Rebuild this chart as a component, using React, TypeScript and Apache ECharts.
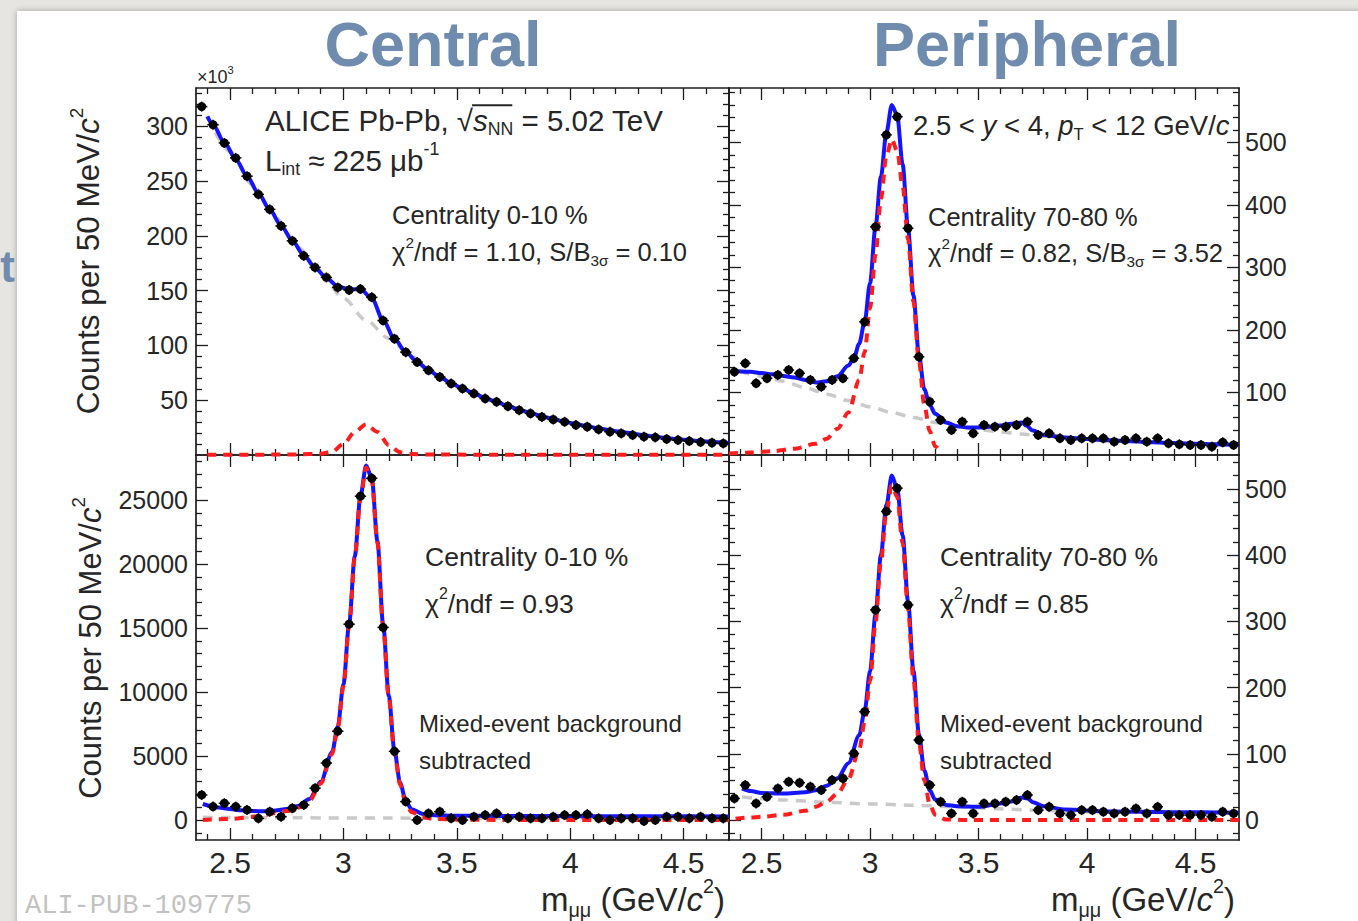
import React, { useEffect, useRef } from 'react';
import * as echarts from 'echarts';

// ---------------- data ----------------
const massBins = [2.375, 2.425, 2.475, 2.525, 2.575, 2.625, 2.675, 2.725, 2.775, 2.825, 2.875, 2.925, 2.975, 3.025, 3.075, 3.125, 3.175, 3.225, 3.275, 3.325, 3.375, 3.425, 3.475, 3.525, 3.575, 3.625, 3.675, 3.725, 3.775, 3.825, 3.875, 3.925, 3.975, 4.025, 4.075, 4.125, 4.175, 4.225, 4.275, 4.325, 4.375, 4.425, 4.475, 4.525, 4.575, 4.625, 4.675];

// Central 0-10 %, counts x10^3
const centralData = [318, 301.5, 284.8, 271.2, 254.5, 237.9, 224.2, 209.1, 195.5, 181.8, 171.2, 162.1, 153.0, 150.6, 151.5, 143.9, 122.7, 106.1, 93.9, 84.8, 77.3, 71.2, 65.2, 60.6, 56.1, 51.5, 48.5, 44.5, 40.9, 37.9, 34.8, 32.4, 30.3, 27.3, 25.8, 23.3, 21.2, 19.7, 18.2, 16.7, 16.1, 14.5, 13.6, 12.7, 11.8, 11.2, 10.6];
const peripheralData = [133, 146.7, 114.7, 122.7, 128, 136, 130.7, 120, 109.3, 120, 122.7, 154.7, 213, 365, 512, 541, 362.7, 157, 85.3, 56, 40, 53.3, 34.7, 48, 45.3, 45.3, 48, 53.3, 32, 34.7, 26.7, 24, 26.7, 26.7, 26.7, 21.3, 24, 26.7, 21.3, 26.7, 18.7, 17, 16, 16, 13.3, 20.3, 16];
const centralSubData = [1960, 1050, 1310, 1050, 790, 130, 650, 260, 920, 1180, 2490, 4450, 6940, 15300, 25300, 26700, 15050, 5370, 1440, 0, 520, 650, 130, 0, 260, 390, 520, 130, 260, 130, 130, 260, 390, 390, 450, 130, 0, 130, 130, -80, 0, 260, 260, 130, 260, 130, 130];
const peripheralSubData = [32.7, 52.9, 25.2, 35.2, 47.8, 57.9, 56.4, 50.4, 45.3, 60.4, 62.9, 100.7, 163.6, 317.2, 465.8, 501, 324.8, 120.8, 52.9, 27.7, 10.1, 27.7, 10.1, 25.2, 25.2, 27.7, 30.2, 37.8, 15.1, 20.1, 10.1, 7.6, 15.1, 15.1, 12.6, 10.1, 12.6, 17.6, 10.1, 20.1, 7.6, 7.6, 7.6, 7.6, 5, 12.6, 10.1];

// fit curves: [mass, value]
const centralFit = [[2.4, 309], [2.425, 301.5], [2.475, 285.5], [2.525, 270], [2.575, 254.5], [2.625, 239], [2.675, 224], [2.725, 209.5], [2.775, 195.5], [2.825, 182.5], [2.875, 171], [2.925, 161.5], [2.975, 154], [3.025, 151], [3.075, 151.5], [3.125, 143], [3.175, 123], [3.225, 106], [3.275, 94], [3.325, 85], [3.375, 77.5], [3.425, 71.3], [3.475, 65.5], [3.525, 60.7], [3.575, 56.2], [3.625, 52], [3.675, 48.3], [3.725, 44.8], [3.775, 41.3], [3.825, 38.3], [3.875, 35.4], [3.925, 32.8], [3.975, 30.4], [4.025, 28.2], [4.075, 26.2], [4.125, 24.3], [4.175, 22.6], [4.225, 21], [4.275, 19.5], [4.325, 18], [4.375, 16.6], [4.425, 15.4], [4.475, 14.3], [4.525, 13.4], [4.575, 12.6], [4.625, 11.9], [4.675, 11.2], [4.7, 10.9]];
const centralBkg = [[2.4, 309], [2.5, 277], [2.6, 246.5], [2.7, 217], [2.8, 189.5], [2.9, 165.5], [3.0, 143], [3.1, 123], [3.2, 106.5], [3.3, 90], [3.4, 74.5], [3.5, 63], [3.6, 54], [3.7, 46.5], [3.8, 39.8], [3.9, 34], [4.0, 29.3], [4.1, 25.2], [4.2, 21.8], [4.3, 18.8], [4.4, 16], [4.5, 13.9], [4.6, 12.2], [4.7, 10.9]];
const centralSig = [[2.4, 0.3], [2.6, 0.3], [2.8, 0.5], [2.9, 1.2], [2.95, 3], [3.0, 10], [3.05, 21], [3.1, 28], [3.15, 21], [3.2, 9], [3.25, 2.5], [3.3, 0.8], [3.4, 0.4], [3.6, 0.3], [4.7, 0.2]];

const peripheralFit = [[2.39, 134], [2.45, 133], [2.5, 131], [2.55, 129], [2.6, 126.5], [2.65, 124], [2.7, 120], [2.75, 116], [2.8, 118], [2.85, 126], [2.9, 143], [2.925, 155], [2.95, 178], [2.975, 213], [3.0, 275], [3.025, 365], [3.05, 445], [3.075, 515], [3.1, 560], [3.125, 543], [3.15, 465], [3.175, 362], [3.2, 255], [3.225, 160], [3.25, 105], [3.275, 80], [3.3, 66], [3.35, 52], [3.4, 46], [3.45, 44], [3.5, 44], [3.55, 45], [3.6, 47], [3.65, 50], [3.7, 52], [3.72, 47], [3.75, 39], [3.8, 32], [3.9, 28], [4.0, 25.5], [4.1, 23.5], [4.2, 22], [4.3, 20.5], [4.4, 19], [4.5, 18], [4.6, 17], [4.7, 16]];
const peripheralBkg = [[2.4, 134], [2.5, 126], [2.6, 118], [2.7, 108], [2.8, 97], [2.9, 87], [3.0, 77], [3.1, 68], [3.2, 60], [3.3, 52], [3.4, 45.5], [3.5, 40.5], [3.6, 37], [3.7, 33.5], [3.8, 30], [3.9, 27], [4.0, 25], [4.2, 22], [4.4, 19], [4.6, 16.5], [4.7, 15.5]];
const peripheralSig = [[2.35, 2.5], [2.45, 4], [2.55, 6], [2.65, 10], [2.75, 18], [2.8, 26], [2.85, 42], [2.9, 68], [2.95, 120], [2.975, 165], [3.0, 235], [3.025, 320], [3.05, 410], [3.075, 478], [3.1, 505], [3.125, 486], [3.15, 430], [3.175, 345], [3.2, 245], [3.225, 150], [3.25, 80], [3.275, 38], [3.3, 14], [3.325, 4]];

const centralSubFit = [[2.38, 1250], [2.45, 980], [2.5, 860], [2.55, 760], [2.6, 700], [2.65, 690], [2.7, 740], [2.75, 860], [2.8, 1100], [2.85, 1650], [2.9, 3000], [2.95, 5300], [2.975, 7300], [3.0, 10600], [3.025, 15300], [3.05, 20600], [3.075, 25300], [3.1, 27700], [3.125, 26700], [3.15, 21800], [3.175, 15300], [3.2, 9700], [3.225, 5400], [3.25, 2900], [3.275, 1500], [3.3, 850], [3.35, 480], [3.4, 370], [3.5, 330], [3.7, 320], [4.0, 300], [4.4, 290], [4.7, 280]];
const centralSubBkg = [[2.38, 210], [2.8, 170], [3.2, 150], [3.6, 140], [4.0, 140], [4.7, 130]];
const centralSubSig = [[2.38, 10], [2.5, 80], [2.6, 250], [2.65, 400], [2.7, 550], [2.75, 700], [2.8, 950], [2.85, 1500], [2.9, 2850], [2.95, 5150], [2.975, 7150], [3.0, 10450], [3.025, 15150], [3.05, 20450], [3.075, 25150], [3.1, 27550], [3.125, 26550], [3.15, 21650], [3.175, 15150], [3.2, 9550], [3.225, 5250], [3.25, 2750], [3.275, 1300], [3.3, 620], [3.35, 220], [3.4, 90], [3.5, 30], [3.7, 10], [4.7, 0]];

const peripheralSubFit = [[2.41, 48], [2.45, 44], [2.5, 41], [2.6, 40], [2.7, 42], [2.75, 45], [2.8, 52], [2.85, 63], [2.9, 86], [2.95, 128], [2.975, 165], [3.0, 225], [3.025, 310], [3.05, 400], [3.075, 475], [3.1, 520], [3.125, 500], [3.15, 430], [3.175, 330], [3.2, 225], [3.225, 130], [3.25, 75], [3.275, 45], [3.3, 31], [3.35, 23], [3.4, 21], [3.5, 20], [3.6, 25], [3.65, 28], [3.7, 34], [3.725, 33], [3.75, 27], [3.8, 21], [3.9, 16], [4.1, 13], [4.4, 12], [4.7, 11]];
const peripheralSubBkg = [[2.41, 35], [2.6, 30.5], [2.8, 27], [3.0, 24.5], [3.2, 22.5], [3.4, 20], [3.6, 17], [3.8, 14.5], [4.0, 12.8], [4.4, 11.3], [4.7, 10.3]];
const peripheralSubSig = [[2.38, 2], [2.45, 4], [2.5, 5], [2.6, 8], [2.7, 14], [2.75, 20], [2.8, 28], [2.85, 40], [2.9, 62], [2.95, 106], [2.975, 148], [3.0, 210], [3.025, 298], [3.05, 390], [3.075, 465], [3.1, 505], [3.125, 488], [3.15, 418], [3.175, 318], [3.2, 212], [3.225, 118], [3.25, 60], [3.275, 24], [3.3, 8], [3.35, 1], [3.45, 0], [4.7, 0]];

// axes
const X_MIN = 2.35;
const X_MAX = 4.7;
const xMajorTicks = [2.5, 3, 3.5, 4, 4.5];
const xMinorTicks = [2.4, 2.6, 2.7, 2.8, 2.9, 3.1, 3.2, 3.3, 3.4, 3.6, 3.7, 3.8, 3.9, 4.1, 4.2, 4.3, 4.4, 4.6];
const yTicksTL = [50, 100, 150, 200, 250, 300];
const yTicksTR = [100, 200, 300, 400, 500];
const yTicksBL = [0, 5000, 10000, 15000, 20000, 25000];
const yTicksBR = [0, 100, 200, 300, 400, 500];

// ---------------- helpers ----------------
const FONT = 'Liberation Sans';
const TXT = '#262626';
const AX = '#1c1c1c';
const HEAD = '#6f8cae';

let mctx: CanvasRenderingContext2D | null = null;
function textWidth(t: string, size: number, italic = false, weight = 'normal', family = FONT) {
  if (!mctx) mctx = document.createElement('canvas').getContext('2d');
  mctx!.font = `${italic ? 'italic' : 'normal'} ${weight} ${size}px "${family}"`;
  return mctx!.measureText(t).width;
}

type Seg = { t: string; k?: number; dy?: number; it?: boolean };
function richText(x0: number, y0: number, segs: Seg[], size: number, color = TXT, align: 'left' | 'center' | 'right' = 'left', weight = 'normal') {
  const widths = segs.map(s => textWidth(s.t, size * (s.k ?? 1), !!s.it, weight));
  const total = widths.reduce((a, b) => a + b, 0);
  let x = align === 'left' ? x0 : align === 'center' ? x0 - total / 2 : x0 - total;
  const xs: number[] = [];
  const els = segs.map((s, i) => {
    xs.push(x);
    const el = {
      type: 'text', x, y: y0 + (s.dy ?? 0) * size, z: 100, silent: true,
      style: {
        text: s.t, fontSize: size * (s.k ?? 1), fontFamily: FONT, fontWeight: weight,
        fontStyle: s.it ? 'italic' : 'normal', fill: color,
        align: 'left', verticalAlign: 'middle', textAlign: 'left', textVerticalAlign: 'middle',
      },
    };
    x += widths[i];
    return el;
  });
  xs.push(x);
  return { els, xs, total };
}
const SUB = (t: string, k = 0.6): Seg => ({ t, k, dy: 0.32 });
const SUP = (t: string, k = 0.6): Seg => ({ t, k, dy: -0.38 });

function minorTicks(lo: number, hi: number, step: number, major: number) {
  const out: number[] = [];
  for (let k = Math.ceil(lo / step); k * step < hi; k++) {
    const v = k * step;
    if (Math.abs(v / major - Math.round(v / major)) > 1e-6) out.push(v);
  }
  return out;
}

function xAxes(grid: number, showLabels: boolean) {
  const common = { type: 'value', gridIndex: grid, min: X_MIN, max: X_MAX, splitLine: { show: false } };
  const mk = (pos: string, major: boolean) => ({
    ...common,
    position: pos,
    axisLine: { show: major, onZero: false, lineStyle: { color: AX, width: 1.7 } },
    axisTick: { show: true, inside: true, length: major ? 12 : 6, customValues: major ? xMajorTicks : xMinorTicks, lineStyle: { color: AX, width: 1.3 } },
    axisLabel: {
      show: major && pos === 'bottom' && showLabels, customValues: xMajorTicks, fontSize: 30, fontFamily: FONT, color: TXT, margin: 7,
      formatter: (v: number) => String(v),
    },
  });
  return [mk('bottom', true), mk('bottom', false), mk('top', true), mk('top', false)];
}

function yAxes(grid: number, min: number, max: number, major: number[], step: number, majorStep: number, labelSide: string) {
  const common = { type: 'value', gridIndex: grid, min, max, splitLine: { show: false } };
  const minor = minorTicks(min, max, step, majorStep);
  const mk = (pos: string, isMajor: boolean) => ({
    ...common,
    position: pos,
    axisLine: { show: isMajor, onZero: false, lineStyle: { color: AX, width: 1.7 } },
    axisTick: { show: true, inside: true, length: isMajor ? 12 : 6, customValues: isMajor ? major : minor, lineStyle: { color: AX, width: 1.3 } },
    axisLabel: {
      show: isMajor && pos === labelSide, customValues: major, fontSize: 25, fontFamily: FONT, color: TXT,
      margin: pos === 'left' ? 8 : 6, formatter: (v: number) => String(v),
    },
  });
  return [mk('left', true), mk('left', false), mk('right', true), mk('right', false)];
}

const renderPoint = (_params: any, api: any) => {
  const m = api.value(0);
  const v = api.value(1);
  const p = api.coord([m, v]);
  const l = api.coord([m - 0.025, v]);
  const r = api.coord([m + 0.025, v]);
  const s = { stroke: '#000', lineWidth: 1.5 };
  return {
    type: 'group',
    children: [
      { type: 'line', shape: { x1: l[0], y1: p[1], x2: r[0], y2: p[1] }, style: s },
      { type: 'line', shape: { x1: p[0], y1: p[1] - 5, x2: p[0], y2: p[1] + 5 }, style: s },
      { type: 'circle', shape: { cx: p[0], cy: p[1], r: 4.5 }, style: { fill: '#000' } },
    ],
  };
};

function panelSeries(g: number, values: number[], fit: number[][], bkg: number[][], sig: number[][], sigClip = true) {
  const base = { xAxisIndex: g * 4, yAxisIndex: g * 4, silent: true, emphasis: { disabled: true } };
  return [
    { ...base, type: 'line', data: bkg, showSymbol: false, symbol: 'none', smooth: 0.3, smoothMonotone: 'x', lineStyle: { color: '#c9c9c9', width: 3.5, type: [10, 8] }, z: 2 },
    { ...base, type: 'line', data: fit, showSymbol: false, symbol: 'none', smooth: 0.3, smoothMonotone: 'x', lineStyle: { color: '#1414ff', width: 4 }, z: 3 },
    { ...base, type: 'line', data: sig, showSymbol: false, symbol: 'none', smooth: 0.3, smoothMonotone: 'x', clip: sigClip, lineStyle: { color: '#ff1c1c', width: 4, type: [9, 7] }, z: 4 },
    { ...base, type: 'custom', data: massBins.map((m, i) => [m, values[i]]), renderItem: renderPoint, z: 6 },
  ];
}

function buildOption() {
  const grids = [
    { left: 196, top: 88, width: 533, height: 367 },
    { left: 729, top: 88, width: 510, height: 367 },
    { left: 196, top: 455, width: 533, height: 385 },
    { left: 729, top: 455, width: 510, height: 385 },
  ].map(g => ({ ...g, containLabel: false, outerBoundsMode: 'none', show: false }));

  const xAxis = [...xAxes(0, false), ...xAxes(1, false), ...xAxes(2, true), ...xAxes(3, true)];
  const yAxis = [
    ...yAxes(0, 0, 335, yTicksTL, 10, 50, 'left'),
    ...yAxes(1, 0, 587, yTicksTR, 20, 100, 'right'),
    ...yAxes(2, -1560, 28520, yTicksBL, 1000, 5000, 'left'),
    ...yAxes(3, -30, 551, yTicksBR, 20, 100, 'right'),
  ];

  const series = [
    ...panelSeries(0, centralData, centralFit, centralBkg, centralSig, false),
    ...panelSeries(1, peripheralData, peripheralFit, peripheralBkg, peripheralSig, false),
    ...panelSeries(2, centralSubData, centralSubFit, centralSubBkg, centralSubSig),
    ...panelSeries(3, peripheralSubData, peripheralSubFit, peripheralSubBkg, peripheralSubSig),
  ];

  const g: any[] = [];
  const add = (r: { els: any[] }) => g.push(...r.els);

  // headers
  add(richText(433, 44, [{ t: 'Central' }], 63, HEAD, 'center', 'bold'));
  add(richText(1027, 44, [{ t: 'Peripheral' }], 63, HEAD, 'center', 'bold'));
  add(richText(15, 266, [{ t: 't' }], 44, HEAD, 'right', 'bold'));

  // x10^3
  add(richText(197, 77, [{ t: '×10' }, SUP('3', 0.62)], 18, TXT));

  // top-left annotations
  const alice = richText(265, 120, [{ t: 'ALICE Pb-Pb, ' }, { t: '√' }, { t: 's', it: true }, SUB('NN'), { t: ' = 5.02 TeV' }], 29.5, TXT);
  add(alice);
  g.push({ type: 'line', z: 100, silent: true, shape: { x1: alice.xs[2] - 1, y1: 120 - 0.5 * 29.5, x2: alice.xs[4] - 1, y2: 120 - 0.5 * 29.5 }, style: { stroke: TXT, lineWidth: 1.8 } });
  add(richText(265, 160, [{ t: 'L' }, SUB('int'), { t: ' ≈ 225 μb' }, SUP('-1')], 29.5, TXT));
  add(richText(392, 215, [{ t: 'Centrality 0-10 %' }], 25.5, TXT));
  add(richText(392, 252, [{ t: 'χ' }, SUP('2'), { t: '/ndf = 1.10, S/B' }, SUB('3σ'), { t: ' = 0.10' }], 25.5, TXT));

  // top-right annotations
  add(richText(913, 125, [{ t: '2.5 < ' }, { t: 'y', it: true }, { t: ' < 4, ' }, { t: 'p', it: true }, SUB('T'), { t: ' < 12 GeV/' }, { t: 'c', it: true }], 27.5, TXT));
  add(richText(928, 217, [{ t: 'Centrality 70-80 %' }], 25.5, TXT));
  add(richText(928, 253, [{ t: 'χ' }, SUP('2'), { t: '/ndf = 0.82, S/B' }, SUB('3σ'), { t: ' = 3.52' }], 25.5, TXT));

  // bottom-left
  add(richText(425, 557, [{ t: 'Centrality 0-10 %' }], 26.5, TXT));
  add(richText(425, 604, [{ t: 'χ' }, SUP('2'), { t: '/ndf = 0.93' }], 26.5, TXT));
  add(richText(419, 723, [{ t: 'Mixed-event background' }], 24, TXT));
  add(richText(419, 760, [{ t: 'subtracted' }], 24, TXT));

  // bottom-right
  add(richText(940, 557, [{ t: 'Centrality 70-80 %' }], 26.5, TXT));
  add(richText(940, 604, [{ t: 'χ' }, SUP('2'), { t: '/ndf = 0.85' }], 26.5, TXT));
  add(richText(940, 723, [{ t: 'Mixed-event background' }], 24, TXT));
  add(richText(940, 760, [{ t: 'subtracted' }], 24, TXT));

  // x titles
  const xTitle: Seg[] = [{ t: 'm' }, SUB('μμ'), { t: ' (GeV/' }, { t: 'c', it: true }, SUP('2'), { t: ')' }];
  add(richText(633, 899, xTitle, 33, TXT, 'center'));
  add(richText(1143, 899, xTitle, 33, TXT, 'center'));

  // y titles (rotated)
  const yTitle: Seg[] = [{ t: 'Counts per 50 MeV/' }, { t: 'c', it: true }, SUP('2')];
  g.push({ type: 'group', x: 88, y: 261, rotation: Math.PI / 2, z: 100, children: richText(0, 0, yTitle, 31.5, TXT, 'center').els });
  g.push({ type: 'group', x: 90, y: 648, rotation: Math.PI / 2, z: 100, children: richText(0, 0, yTitle, 31, TXT, 'center').els });

  // watermark
  g.push({ type: 'text', x: 25, y: 906, z: 100, silent: true, style: { text: 'ALI-PUB-109775', fontSize: 27, fontFamily: 'Liberation Mono', fill: '#c2c2c2', align: 'left', verticalAlign: 'middle', textAlign: 'left', textVerticalAlign: 'middle' } });

  return {
    animation: false,
    grid: grids,
    xAxis,
    yAxis,
    series,
    graphic: { elements: g },
  };
}

export default function App() {
  const ref = useRef<HTMLDivElement>(null);
  useEffect(() => {
    if (!ref.current) return;
    const chart = echarts.init(ref.current, undefined, { renderer: 'svg' });
    chart.setOption(buildOption() as any);
    return () => chart.dispose();
  }, []);
  return (
    <div style={{ position: 'absolute', left: 0, top: 0, width: 1358, height: 921, overflow: 'hidden', background: '#e7e5e1' }}>
      <div style={{ position: 'absolute', left: 17, top: 11, width: 1400, height: 1000, background: '#ffffff', boxShadow: '0 0 6px rgba(0,0,0,0.3)' }} />
      <div ref={ref} style={{ position: 'absolute', left: 0, top: 0, width: 1358, height: 921 }} />
    </div>
  );
}
